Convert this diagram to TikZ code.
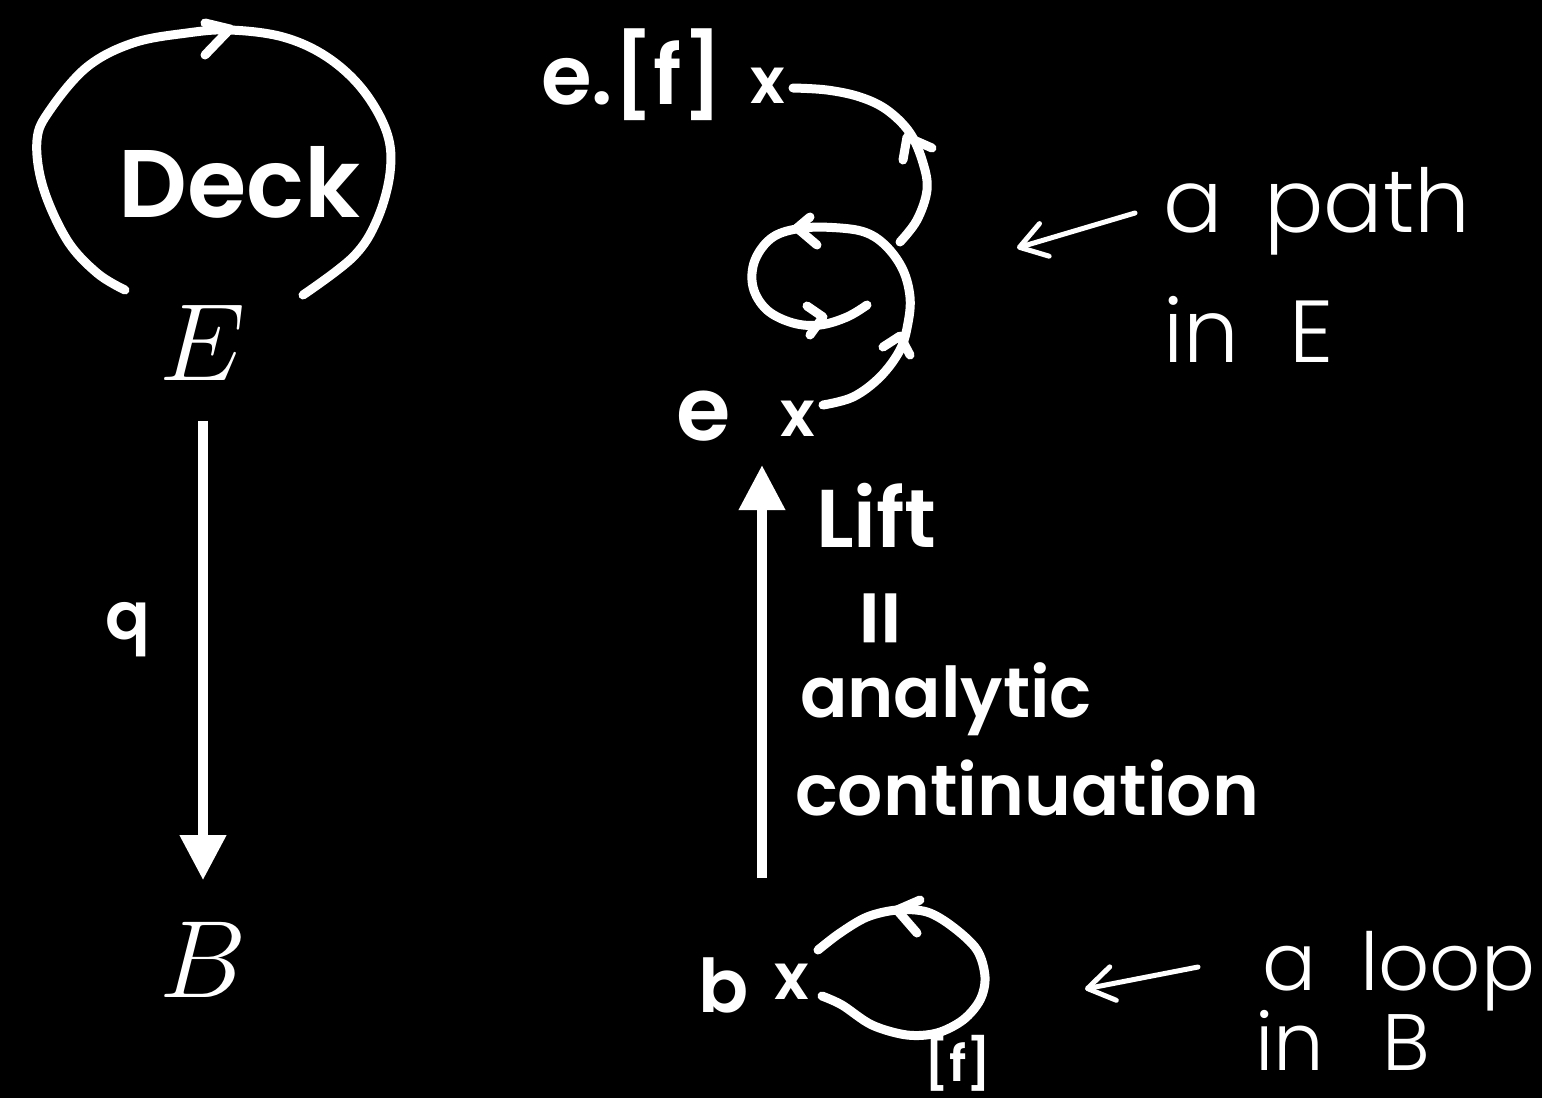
\RequirePackage{fix-cm}
\documentclass[tikz,border=0pt]{standalone}
\usepackage{fontspec}
\usetikzlibrary{arrows.meta}
\newfontfamily\hand{Poppins SemiBold}
\newfontfamily\handthin{Poppins Light}
\tikzset{
  ink/.style={draw=white, line width=9pt, line cap=round, line join=round},
  thinink/.style={draw=white, line width=5pt, line cap=round, line join=round},
  bigarr/.style={draw=white, line width=10pt, -{Triangle[length=45pt,width=44pt]}},
  thinarr/.style={thinink, -{Straight Barb[length=26pt,width=34pt,round]}},
  boldlbl/.style={text=white, inner sep=0pt, font=\hand\fontsize{#1}{#1}\selectfont},
  thinlbl/.style={text=white, inner sep=0pt, font=\handthin\fontsize{#1}{#1}\selectfont},
  mathlbl/.style={text=white, inner sep=0pt, font=\fontsize{110}{110}\selectfont},
}
\begin{document}
\begin{tikzpicture}[x=1pt,y=-1pt]
\fill[black] (0,0) rectangle (1542,1098);
\useasboundingbox (0,0) rectangle (1542,1098);

% ---- left column ----
\node[mathlbl] (E) at (203,343) {$E$};
\node[mathlbl] (B) at (203,960) {$B$};
\draw[bigarr, shorten <=40pt, shorten >=42pt] (E) -- (B);
\node[boldlbl=66] (q) at (128,630) {q};

% Deck loop
\draw[ink] plot[smooth, tension=0.6] coordinates {(125,290) (97,273) (67,240) (43,187) (37,140) (50,110) (87,67) (133,43) (187,33) (230,30) (283,37) (327,57) (363,90) (387,133) (390,173) (377,220) (353,257) (303,295)};
\draw[ink] (205,23) -- (230,29) -- (205,55);
\node[boldlbl=96, anchor=base west] (deck) at (118,217) {Deck};

% ---- path in E ----
\node[boldlbl=82, anchor=base west] (ef) at (541,104) {e.[f]};
\node[boldlbl=64] (xtop) at (768,86) {x};
\node[boldlbl=88, anchor=base west] (e) at (676,440) {e};
\node[boldlbl=64] (xe) at (798,419) {x};

\draw[ink] plot[smooth, tension=0.6] coordinates {(823,405) (853,397) (880,377) (900,350) (908,323) (910,297) (903,270) (887,247) (867,233) (840,228) (803,228) (773,237) (755,260) (753,287) (767,310) (793,323) (820,325) (847,317) (867,305)};
\draw[ink] plot[smooth, tension=0.6] coordinates {(900,242) (917,220) (927,190) (923,163) (910,133) (887,110) (860,97) (827,90) (793,88)};
% chevrons
\draw[ink] (883,347) -- (900,336) -- (910,355);
\draw[ink] (810,217) -- (797,228) -- (817,245);
\draw[ink] (807,306) -- (823,317) -- (810,335);
\draw[ink] (903,160) -- (907,137) -- (932,148);

% Lift arrow
\coordinate (liftS) at (762,878);
\coordinate (liftT) at (762,465);
\draw[bigarr] (liftS) -- (liftT);
\node[boldlbl=82, anchor=base west] (lift) at (816,547) {Lift};
\node[boldlbl=90, rotate=90] (eq) at (888,618) {=};
\node[boldlbl=70, anchor=base west] (analytic) at (800,717) {analytic};
\node[boldlbl=71, anchor=base west] (cont) at (795,815) {continuation};

% ---- loop in B ----
\node[boldlbl=74, anchor=base west] (b) at (698,1012) {b};
\node[boldlbl=64] (xb) at (792,982) {x};
\draw[ink] plot[smooth, tension=0.55] coordinates {(818,950) (840,933) (867,917) (897,910) (927,912) (953,927) (977,950) (985,977) (980,1000) (963,1020) (937,1033) (907,1035) (872,1025) (842,1005) (822,996)};
\draw[ink] (920,900) -- (897,910) -- (917,933);
\node[boldlbl=50] (fb) at (958,1063) {[f]};

% ---- annotations ----
\coordinate (pathA) at (1135,213);
\coordinate (pathB) at (1017,248);
\draw[thinarr] (pathA) -- (pathB);
\node[thinlbl=88, anchor=base west] (apath) at (1163,232) {a\hspace{42pt}path};
\node[thinlbl=88, anchor=base west] (inE) at (1163,362) {in\hspace{50pt}E};

\coordinate (loopA) at (1198,967);
\coordinate (loopB) at (1085,989);
\draw[thinarr] (loopA) -- (loopB);
\node[thinlbl=80, anchor=base west] (aloop) at (1262,990) {a\hspace{44pt}loop};
\node[thinlbl=80, anchor=base west] (inB) at (1255,1070) {in\hspace{58pt}B};
\end{tikzpicture}
\end{document}
